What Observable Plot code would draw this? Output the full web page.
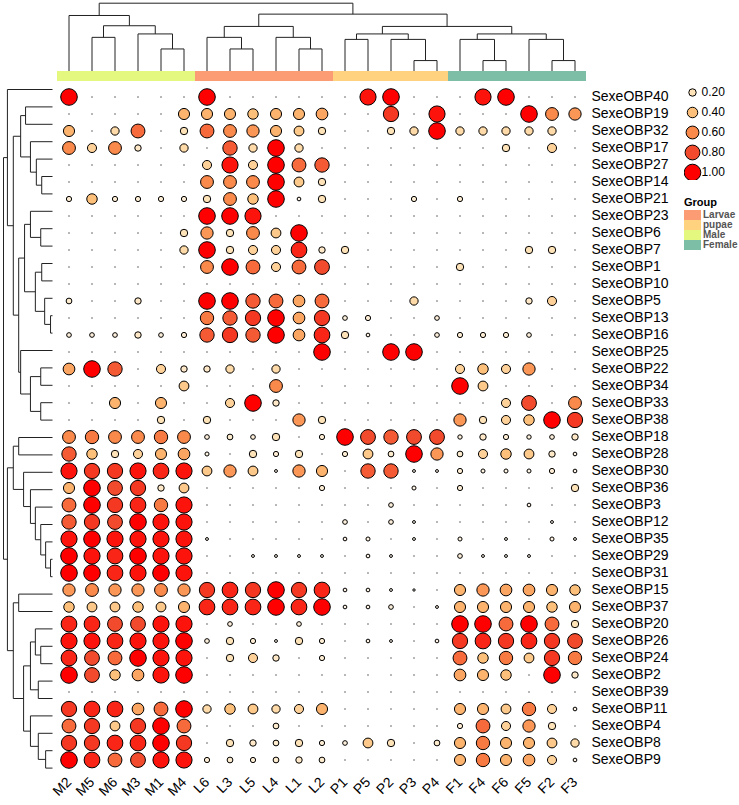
<!DOCTYPE html>
<html>
<head>
<meta charset="utf-8">
<script src="https://cdn.jsdelivr.net/npm/d3@7"></script>
<script src="https://cdn.jsdelivr.net/npm/@observablehq/plot@0.6"></script>
<style>
  body { margin: 0; background: #fff; font-family: "Liberation Sans", Arial, sans-serif; }
  #chart { position: relative; width: 739px; height: 805px; }
  #chart > * { position: absolute; }
  #grp { left: 684px; top: 196px; }
  #grp .title { font-weight: bold; font-size: 11px; line-height: 13px; color: #000; margin-bottom: 1px; }
  #grp .row { display: flex; align-items: center; height: 10px; }
  #grp .sw { width: 17px; height: 10px; margin-right: 2px; }
  #grp .lab { font-weight: bold; font-size: 10px; color: #555; line-height: 10px; }
</style>
</head>
<body>
<div id="chart"></div>
<script>
// columnas (muestras) en el orden del dendrograma
const samples = ["M2", "M5", "M6", "M3", "M1", "M4", "L6", "L3", "L5", "L4", "L1", "L2",
  "P1", "P5", "P2", "P3", "P4", "F1", "F4", "F6", "F5", "F2", "F3"];

const genes = ["SexeOBP40", "SexeOBP19", "SexeOBP32", "SexeOBP17", "SexeOBP27", "SexeOBP14",
  "SexeOBP21", "SexeOBP23", "SexeOBP6", "SexeOBP7", "SexeOBP1", "SexeOBP10", "SexeOBP5",
  "SexeOBP13", "SexeOBP16", "SexeOBP25", "SexeOBP22", "SexeOBP34", "SexeOBP33", "SexeOBP38",
  "SexeOBP18", "SexeOBP28", "SexeOBP30", "SexeOBP36", "SexeOBP3", "SexeOBP12", "SexeOBP35",
  "SexeOBP29", "SexeOBP31", "SexeOBP15", "SexeOBP37", "SexeOBP20", "SexeOBP26", "SexeOBP24",
  "SexeOBP2", "SexeOBP39", "SexeOBP11", "SexeOBP4", "SexeOBP8", "SexeOBP9"];

const groups = ["Larvae", "pupae", "Male", "Female"];
const groupColors = ["#fc9c74", "#fed27f", "#e4f77e", "#7dbfa6"];
const groupOfPrefix = {M: "Male", L: "Larvae", P: "pupae", F: "Female"};

const legendValues = [0.2, 0.4, 0.6, 0.8, 1.0];

// valores por grupo: una fila por gen
const male = [ // M2 M5 M6 M3 M1 M4
  [1, 0, 0, 0, 0, 0], [0, 0, 0, 0, 0, .45], [.45, 0, .25, .7, 0, .2], [.6, .3, .6, .15, 0, .25],
  [0, 0, 0, 0, 0, 0], [0, 0, 0, 0, 0, 0], [.1, .4, .1, .1, .1, .1], [0, 0, 0, 0, 0, 0],
  [0, 0, 0, 0, 0, .2], [0, 0, 0, 0, 0, .25], [0, 0, 0, 0, 0, 0], [0, 0, 0, 0, 0, 0],
  [.12, 0, 0, .15, 0, 0], [0, 0, 0, 0, 0, 0], [.08, .08, .08, .15, .08, .1], [0, 0, 0, 0, 0, 0],
  [.5, 1, .75, 0, .3, .15], [0, 0, 0, 0, 0, .35], [0, 0, .45, 0, .45, 0], [0, 0, 0, 0, .2, 0],
  [.6, .65, .6, .6, .65, .6], [.75, .4, .2, .3, .45, .5], [.95, .85, .85, .95, .9, .95],
  [.45, 1, .8, .85, .15, .35], [.7, 1, .85, .9, .65, .95], [.75, .85, .8, 1, .95, .95],
  [.95, 1, .95, .95, .95, .95], [1, .95, .9, 1, .95, .95], [1, 1, .9, .95, 1, .95],
  [.55, .6, .55, .55, .6, .55], [.4, .35, .35, .4, .35, .45], [.9, .9, .8, .8, .95, .95],
  [.95, .95, .9, .95, .95, 1], [.9, .8, .7, 1, .95, .95], [1, .8, .4, .5, .95, 1],
  [0, 0, 0, 0, 0, 0], [.85, .9, .9, .5, .7, 1], [.7, .85, .35, .85, 1, .7],
  [.85, .85, .9, .9, 1, .85], [1, .9, .7, .8, .95, .95]
];

const larvae = [ // L6 L3 L5 L4 L1 L2
  [1, 0, 0, 0, 0, 0], [.45, .45, .4, .45, .45, .5], [.7, .6, .55, .45, .35, .2], [0, .75, .25, 1, .25, 0],
  [.3, .95, .3, 1, .7, .75], [.6, .6, .6, 1, .35, .2], [.2, .6, .4, 1, .05, .2], [1, 1, .95, 0, 0, 0],
  [.55, .2, .6, .35, 1, 0], [1, .2, .3, .3, .9, .15], [.6, 1, .7, .3, .7, .8], [0, 0, 0, 0, 0, 0],
  [1, 1, .75, .7, .5, .7], [.65, .75, .85, 1, .5, .85], [.75, .85, .75, 1, .5, .9], [0, 0, 0, 0, 0, 1],
  [.15, .25, 0, .25, 0, 0], [0, 0, 0, .6, 0, 0], [0, .3, 1, .15, 0, 0], [.2, 0, 0, 0, .55, .2],
  [.08, .12, .08, .2, 0, .1], [.06, 0, .2, .1, .2, 0], [.35, .55, .35, .03, .55, .45],
  [0, 0, 0, 0, 0, .1], [0, 0, 0, 0, 0, 0], [0, 0, 0, 0, 0, 0], [.03, 0, 0, 0, 0, 0],
  [0, 0, .03, .03, .03, .03], [0, 0, 0, 0, 0, 0], [.85, .9, .85, 1, .85, .9], [.9, .9, .9, 1, .9, 1],
  [0, .08, 0, 0, .08, 0], [.08, .2, .1, .03, .2, .1], [0, .2, .3, .15, 0, .1], [0, 0, 0, 0, 0, 0],
  [0, 0, 0, 0, 0, 0], [.25, .4, .35, .25, .3, .45], [0, 0, 0, .12, 0, 0], [0, .2, .15, .12, .2, .1],
  [.1, .12, .1, .12, .15, .12]
];

const pupae = [ // P1 P5 P2 P3 P4
  [0, .95, 1, 0, 0], [0, 0, .85, 0, .95], [0, 0, .2, .25, 1], [0, 0, 0, 0, 0], [0, 0, 0, 0, 0],
  [0, 0, 0, 0, 0], [0, 0, 0, .1, 0], [0, 0, 0, 0, 0], [0, 0, 0, 0, 0], [.2, 0, 0, 0, 0],
  [0, 0, 0, 0, 0], [0, 0, 0, 0, 0], [0, 0, 0, .25, 0], [.08, .1, 0, 0, .08], [.2, .05, 0, 0, .08],
  [0, 0, 1, 1, 0], [0, 0, 0, 0, 0], [0, 0, 0, 0, 0], [0, 0, 0, 0, 0], [0, 0, 0, 0, 0],
  [1, .8, .75, .8, .8], [.1, .35, .12, 1, .55], [0, .75, .75, .03, .03], [0, 0, 0, .06, 0],
  [0, 0, .08, 0, 0], [.08, 0, .08, .03, 0], [.05, .06, 0, .03, 0], [0, .05, .03, 0, 0],
  [0, 0, 0, 0, 0], [.05, .05, .03, .02, 0], [.05, .05, .08, 0, .03], [0, 0, 0, 0, 0],
  [0, .05, .03, 0, .05], [0, 0, 0, 0, 0], [0, 0, 0, 0, 0], [0, 0, 0, 0, 0], [0, 0, 0, 0, 0],
  [0, 0, 0, 0, 0], [.08, .35, .2, 0, .12], [0, 0, 0, 0, 0]
];

const female = [ // F1 F4 F6 F5 F2 F3
  [0, .95, 1, 0, 0, 0], [0, 0, 0, 1, .6, .55], [.25, .25, .25, .25, .25, 0], [0, 0, .2, 0, .3, 0],
  [0, 0, 0, 0, 0, 0], [0, 0, 0, 0, 0, 0], [.1, 0, 0, 0, 0, 0], [0, 0, 0, 0, 0, 0],
  [0, 0, 0, 0, 0, 0], [0, 0, 0, .2, .2, 0], [.2, 0, 0, 0, 0, 0], [0, 0, 0, 0, 0, 0],
  [0, 0, 0, .15, .3, 0], [0, 0, 0, 0, 0, 0], [.1, .1, .1, .08, 0, 0], [0, 0, 0, 0, 0, 0],
  [.3, .4, .3, .55, 0, 0], [1, .35, 0, 0, 0, 0], [0, 0, .3, .8, 0, .6], [.55, .2, .3, .4, 1, .85],
  [.07, .15, .1, .07, .08, .15], [.12, .3, .4, .35, .15, .05], [.1, .06, .06, .06, .1, .05],
  [.1, 0, 0, 0, 0, .2], [0, 0, 0, .05, 0, 0], [0, 0, 0, 0, .03, 0], [.06, 0, .03, 0, .06, .03],
  [.08, .03, .03, .03, 0, 0], [0, 0, 0, 0, 0, 0], [.45, .55, .5, .5, .45, .4],
  [.45, .45, .45, .45, .4, .45], [1, 1, .7, 1, .7, .2], [.85, .9, .85, .9, .85, .8],
  [.7, .4, .65, .35, .85, .65], [.5, .45, .4, 0, 1, .15], [0, 0, 0, 0, 0, 0],
  [.45, .45, .35, .65, .3, .05], [.1, .7, .3, .55, .2, 0], [.45, .65, .45, .45, .35, .25],
  [.45, .65, .45, .5, .3, .05]
];

// dendrogramas: [altura, izquierda, derecha]
const sampleTree = [1.0,
  [0.82, "M2", [0.67, [0.50, "M5", "M6"], [0.55, "M3", [0.33, "M1", "M4"]]]],
  [0.84,
    [0.66, [0.50, "L6", [0.33, "L3", "L5"]], [0.50, "L4", [0.33, "L1", "L2"]]],
    [0.66,
      [0.55, [0.47, "P1", "P5"], [0.47, "P2", [0.16, "P3", "P4"]]],
      [0.55, [0.47, "F1", [0.16, "F4", "F6"]], [0.47, "F5", [0.16, "F2", "F3"]]]]]
];

const geneTree = [1.0,
  [0.92, "SexeOBP40",
    [0.80,
      [0.65, [0.55, "SexeOBP19", "SexeOBP32"],
        [0.45, "SexeOBP17", [0.33, "SexeOBP27", [0.22, "SexeOBP14", "SexeOBP21"]]]],
      [0.69,
        [0.57, [0.45, "SexeOBP23", [0.24, "SexeOBP6", "SexeOBP7"]],
          [0.35, [0.22, "SexeOBP1", "SexeOBP10"], [0.16, "SexeOBP5", [0.04, "SexeOBP13", "SexeOBP16"]]]],
        [0.65, "SexeOBP25", [0.45, [0.24, "SexeOBP22", "SexeOBP34"], [0.24, "SexeOBP33", "SexeOBP38"]]]]]],
  [0.92,
    [0.80, [0.69, "SexeOBP18", "SexeOBP28"],
      [0.59, "SexeOBP30", [0.45, "SexeOBP36", [0.35, "SexeOBP3", [0.24, "SexeOBP12",
        [0.14, "SexeOBP35", [0.04, "SexeOBP29", "SexeOBP31"]]]]]]],
    [0.80, [0.69, "SexeOBP15", "SexeOBP37"],
      [0.59,
        [0.45, [0.35, "SexeOBP20", [0.24, "SexeOBP26", "SexeOBP24"]], [0.29, "SexeOBP2", "SexeOBP39"]],
        [0.45, "SexeOBP11", [0.29, "SexeOBP4", [0.14, "SexeOBP8", "SexeOBP9"]]]]]]
];

// Función para sacar los segmentos del dendrograma
function dendroSegments(tree, leaves) {
  const segs = [];
  function walk(node) {
    if (typeof node === "string") return {p: leaves.indexOf(node), h: 0};
    const [h, a, b] = node;
    const A = walk(a), B = walk(b);
    segs.push({p1: A.p, h1: h, p2: B.p, h2: h});
    segs.push({p1: A.p, h1: A.h, p2: A.p, h2: h});
    segs.push({p1: B.p, h1: B.h, p2: B.p, h2: h});
    return {p: (A.p + B.p) / 2, h};
  }
  walk(tree);
  return segs;
}

const cells = [];
genes.forEach((gene, i) => {
  const row = [...male[i], ...larvae[i], ...pupae[i], ...female[i]];
  row.forEach((value, j) => cells.push({gene, sample: samples[j], value}));
});

const W = 739, H = 805;
const mL = 57, mR = 153, mT = 80.3, mB = 28.7;
const font = "Liberation Sans, Arial, sans-serif";

const rScale = {type: "sqrt", domain: [0, 1], range: [0, 8.3]};
const colorScale = {
  type: "linear",
  domain: [0, 0.2, 0.4, 0.6, 0.8, 1],
  range: ["#fffaf2", "#fee2b8", "#fdc07a", "#f98a4b", "#f24a2c", "#ff0000"],
  interpolate: "rgb"
};

const main = Plot.plot({
  width: W, height: H,
  marginLeft: mL, marginRight: mR, marginTop: mT, marginBottom: mB,
  style: {fontFamily: font, fontSize: "14px", color: "#000", background: "transparent"},
  x: {type: "band", domain: samples, padding: 0, axis: "bottom", tickSize: 0, tickRotate: -45, tickPadding: 3, label: null},
  y: {type: "band", domain: genes, padding: 0, axis: "right", tickSize: 0, tickPadding: 5, label: null},
  r: rScale,
  color: colorScale,
  marks: [
    Plot.dot(cells.filter(d => d.value === 0), {x: "sample", y: "gene", r: 0.45, fill: "#444", stroke: "#444", strokeWidth: 0.5}),
    Plot.dot(cells.filter(d => d.value > 0), {x: "sample", y: "gene", r: "value", fill: "value", stroke: "#000", strokeWidth: 1})
  ]
});

const topDendro = Plot.plot({
  width: W, height: 71,
  marginLeft: mL, marginRight: mR, marginTop: 2.7, marginBottom: 0,
  x: {domain: [-0.5, samples.length - 0.5], axis: null},
  y: {domain: [0, 1], axis: null},
  marks: [
    Plot.link(dendroSegments(sampleTree, samples), {x1: "p1", y1: "h1", x2: "p2", y2: "h2", stroke: "#222", strokeWidth: 1})
  ]
});

const groupBar = Plot.plot({
  width: W, height: 10,
  marginLeft: mL, marginRight: mR, marginTop: 0, marginBottom: 0,
  x: {type: "band", domain: samples, padding: 0, axis: null},
  color: {type: "ordinal", domain: groups, range: groupColors},
  marks: [
    Plot.cell(samples, {x: d => d, fill: d => groupOfPrefix[d[0]], inset: 0})
  ]
});

const leftDendro = Plot.plot({
  width: mL, height: H,
  marginLeft: 3, marginRight: 5, marginTop: mT, marginBottom: mB,
  x: {domain: [1, 0], axis: null},
  y: {domain: [genes.length - 0.5, -0.5], axis: null},
  marks: [
    Plot.link(dendroSegments(geneTree, genes), {x1: "h1", y1: "p1", x2: "h2", y2: "p2", stroke: "#222", strokeWidth: 1})
  ]
});

const sizeLegend = Plot.plot({
  width: 55, height: 100,
  marginLeft: 8, marginRight: 0, marginTop: 11, marginBottom: 7,
  style: {fontFamily: font, fontSize: "12px", background: "transparent"},
  y: {type: "point", domain: legendValues, padding: 0, axis: null},
  r: rScale,
  color: colorScale,
  marks: [
    Plot.dot(legendValues, {y: d => d, r: d => d, fill: d => d, stroke: "#000", strokeWidth: 1, frameAnchor: "left"}),
    Plot.text(legendValues, {y: d => d, text: d => d.toFixed(2), frameAnchor: "left", dx: 9, textAnchor: "start", fontSize: 12, fill: "#000"})
  ]
});

const chart = d3.select("#chart");
chart.append(() => main).style("left", "0px").style("top", "0px");
chart.append(() => topDendro).style("left", "0px").style("top", "0px");
chart.append(() => groupBar).style("left", "0px").style("top", "70.7px");
chart.append(() => leftDendro).style("left", "0px").style("top", "0px");
chart.append(() => sizeLegend).style("left", "684px").style("top", "80px");

const grp = chart.append("div").attr("id", "grp");
grp.append("div").attr("class", "title").text("Group");
groups.forEach((g, i) => {
  const row = grp.append("div").attr("class", "row");
  row.append("div").attr("class", "sw").style("background", groupColors[i]);
  row.append("div").attr("class", "lab").text(g);
});
</script>
</body>
</html>
